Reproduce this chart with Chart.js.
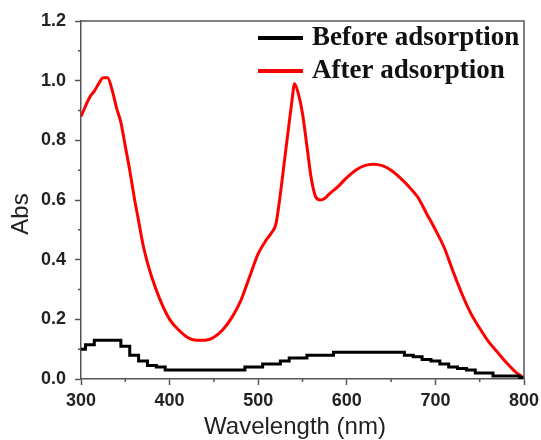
<!DOCTYPE html>
<html>
<head>
<meta charset="utf-8">
<script src="https://cdn.jsdelivr.net/npm/chart.js@4.4.1/dist/chart.umd.min.js"></script>
<style>
    body { margin: 0; background: #fff; }
    #wrap { width: 541px; height: 440px; }
</style>
</head>
<body>
<div id="wrap"><canvas id="absChart" width="541" height="440"></canvas></div>
<script>
// wavelength (nm) / absorbance
const afterWavelength = [300, 310, 315, 320, 325, 330, 335, 340, 345, 350, 355, 360, 365, 370, 375, 380, 390,
    400, 410, 420, 430, 440, 450, 460, 470, 480, 490, 500, 510, 515, 520, 525, 530, 535, 538, 541, 545,
    550, 555, 560, 565, 570, 575, 580, 590, 600, 610, 620, 630, 640, 650, 660, 670, 680, 690, 700,
    710, 720, 730, 740, 750, 760, 770, 780, 790, 800];
const afterAbs = [0.88, 0.945, 0.965, 0.99, 1.01, 1.01, 0.97, 0.91, 0.86, 0.78, 0.70, 0.61, 0.53, 0.45, 0.39, 0.34, 0.26,
    0.20, 0.165, 0.14, 0.13, 0.13, 0.14, 0.165, 0.205, 0.26, 0.34, 0.42, 0.47, 0.49, 0.52, 0.62, 0.74, 0.86, 0.93, 0.99, 0.96,
    0.89, 0.78, 0.67, 0.61, 0.60, 0.605, 0.62, 0.645, 0.675, 0.70, 0.715, 0.72, 0.715, 0.70, 0.675, 0.645, 0.61, 0.555, 0.50,
    0.44, 0.36, 0.285, 0.22, 0.17, 0.125, 0.09, 0.055, 0.025, 0.003];

const beforeWavelength = [300, 310, 320, 330, 340, 350, 360, 370, 380, 390, 400, 410, 420, 430, 440, 450, 460,
    470, 480, 490, 500, 510, 520, 530, 540, 550, 560, 570, 580, 590, 600, 610, 620, 630, 640, 650, 660,
    670, 680, 690, 700, 710, 720, 730, 740, 750, 760, 770, 780, 790, 800];
const beforeAbs = [0.10, 0.115, 0.13, 0.13, 0.13, 0.11, 0.08, 0.06, 0.045, 0.04, 0.03, 0.03, 0.03, 0.03, 0.03, 0.03, 0.03,
    0.03, 0.03, 0.04, 0.04, 0.05, 0.05, 0.06, 0.07, 0.07, 0.08, 0.08, 0.08, 0.09, 0.09, 0.09, 0.09, 0.09, 0.09, 0.09, 0.09,
    0.08, 0.075, 0.065, 0.06, 0.05, 0.04, 0.035, 0.03, 0.02, 0.02, 0.01, 0.01, 0.01, 0.005];

const seriesLabels = ["Before adsorption", "After adsorption"];
const xMinorTicks = [350, 450, 550, 650, 750];
const yMinorTicks = [0.1, 0.3, 0.5, 0.7, 0.9, 1.1];

const axisColor = "#555555";
const sansFont = "'Liberation Sans', Arial, sans-serif";

function toPoints(xs, ys) {
    return xs.map(function (x, i) { return {x: x, y: ys[i]}; });
}

// frame, minor ticks, axis titles and in-plot legend
const decorPlugin = {
    id: "decor",
    afterDraw: function (chart) {
        const ctx = chart.ctx;
        const area = chart.chartArea;
        const xs = chart.scales.x;
        const ys = chart.scales.y;
        ctx.save();
        ctx.strokeStyle = axisColor;
        ctx.lineWidth = 1.5;
        ctx.beginPath();
        ctx.moveTo(area.left, area.top);
        ctx.lineTo(area.right, area.top);
        ctx.lineTo(area.right, area.bottom);
        xMinorTicks.forEach(function (v) {
            const px = xs.getPixelForValue(v);
            ctx.moveTo(px, area.bottom);
            ctx.lineTo(px, area.bottom + 3);
        });
        yMinorTicks.forEach(function (v) {
            const py = ys.getPixelForValue(v);
            ctx.moveTo(area.left, py);
            ctx.lineTo(area.left - 3, py);
        });
        ctx.stroke();

        // axis titles
        ctx.fillStyle = "#222";
        ctx.font = "24px " + sansFont;
        ctx.textAlign = "center";
        ctx.textBaseline = "alphabetic";
        ctx.fillText("Wavelength (nm)", 295, 434);
        ctx.textBaseline = "middle";
        ctx.translate(21, 214);
        ctx.rotate(-Math.PI / 2);
        ctx.fillText("Abs", 0, 0);
        ctx.restore();

        // legend
        ctx.save();
        ctx.font = "bold 27px 'Liberation Serif', 'Times New Roman', serif";
        ctx.textAlign = "left";
        ctx.textBaseline = "alphabetic";
        chart.data.datasets.forEach(function (ds, i) {
            const ly = area.top + 17 + i * 33;
            ctx.strokeStyle = ds.borderColor;
            ctx.lineWidth = 4;
            ctx.beginPath();
            ctx.moveTo(area.right - 266, ly);
            ctx.lineTo(area.right - 221, ly);
            ctx.stroke();
            ctx.fillStyle = "#111";
            ctx.fillText(ds.label, area.right - 212, ly + 7);
        });
        ctx.restore();
    }
};

new Chart(document.getElementById("absChart").getContext("2d"), {
    type: "line",
    data: {
        datasets: [
            {
                label: seriesLabels[0],
                data: toPoints(beforeWavelength, beforeAbs),
                borderColor: "#000000",
                borderWidth: 3,
                pointRadius: 0,
                stepped: "middle"
            },
            {
                label: seriesLabels[1],
                data: toPoints(afterWavelength, afterAbs),
                borderColor: "#ff0000",
                borderWidth: 3,
                pointRadius: 0,
                cubicInterpolationMode: "monotone"
            }
        ]
    },
    options: {
        responsive: false,
        animation: false,
        layout: {padding: {top: 21, right: 17, left: 0, bottom: 0}},
        plugins: {legend: {display: false}, tooltip: {enabled: false}},
        scales: {
            x: {
                type: "linear",
                min: 300,
                max: 800,
                afterFit: function (s) {
                    s.height = 61;
                    s.paddingLeft = 0;
                    s.paddingRight = 0;
                },
                border: {color: axisColor, width: 1.5},
                grid: {drawOnChartArea: false, tickLength: 6, color: axisColor, tickWidth: 1.5},
                ticks: {
                    stepSize: 100,
                    padding: 5,
                    color: "#222",
                    font: {family: sansFont, size: 18, weight: "bold"}
                }
            },
            y: {
                min: 0,
                max: 1.2,
                afterFit: function (s) {
                    s.width = 81;
                    s.paddingTop = 0;
                    s.paddingBottom = 0;
                },
                border: {color: axisColor, width: 1.5},
                grid: {drawOnChartArea: false, tickLength: 6, color: axisColor, tickWidth: 1.5},
                ticks: {
                    stepSize: 0.2,
                    padding: 9,
                    color: "#222",
                    font: {family: sansFont, size: 18, weight: "bold"},
                    callback: function (v) { return v.toFixed(1); }
                }
            }
        }
    },
    plugins: [decorPlugin]
});
</script>
</body>
</html>
